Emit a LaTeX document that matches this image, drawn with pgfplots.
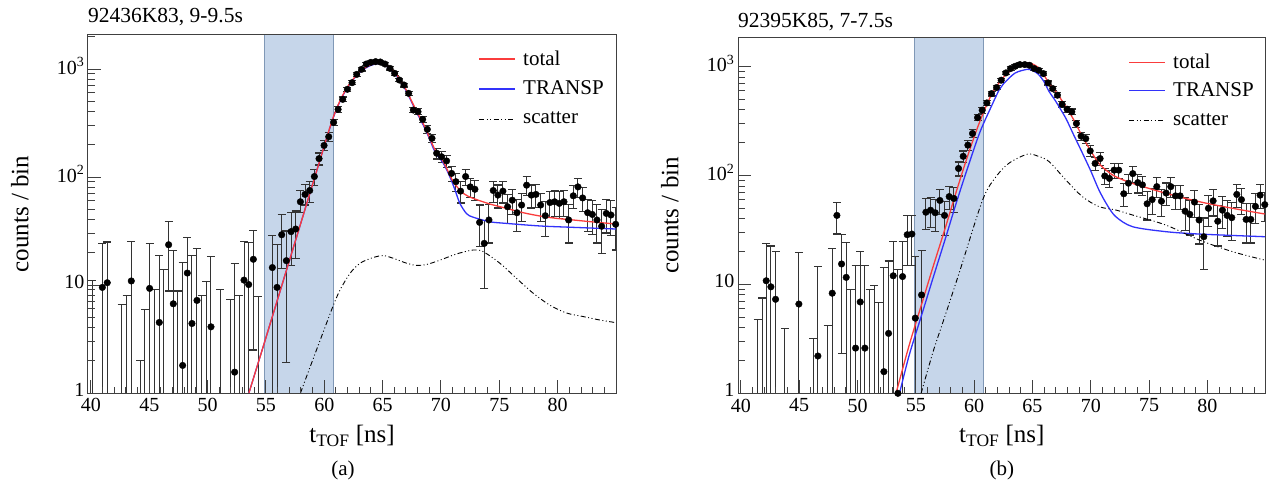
\documentclass[border=0pt]{standalone}
\usepackage{fontspec}
\setmainfont{Liberation Serif}
\usepackage{pgfplots}
\usepackage{pgfplotstable}
\pgfplotsset{compat=1.18}

\definecolor{bandfill}{RGB}{198,214,234}
\definecolor{bandedge}{RGB}{128,152,182}
\definecolor{rootred}{RGB}{250,60,60}
\definecolor{rootblue}{RGB}{50,50,250}

% measured bins: t [ns], counts, err+, err-
\pgfplotstableread{
t v ep em
40.12 0.5 10.5 0.4
40.98 9.5 14.5 9.45
41.40 10.5 14.5 10.45
42.63 0.5 6.1 0.4
43.06 0.5 7.5 0.4
43.46 10.9 14.6 10.85
44.23 0.5 1.5 0.4
44.63 0.5 5.4 0.4
45.03 9.3 14.7 9.25
45.46 0.5 8.6 0.4
45.86 4.5 14.3 4.45
46.26 0.5 13.5 0.4
46.66 23.6 15.3 14.8
47.06 6.7 14.3 6.65
47.46 0.5 8.3 0.4
47.86 1.8 14.4 1.75
48.26 12.9 14.7 12.85
48.66 4.4 14.3 4.35
49.09 7.2 14.5 7.15
49.49 0.5 7.5 0.4
49.89 0.5 10.3 0.4
50.29 4.1 14.4 4.05
51.09 0.5 8.5 0.4
51.92 0.5 6.9 0.4
52.32 1.56 14.2 1.51
52.72 0.5 7.5 0.4
53.12 11.1 14.4 11.05
53.52 10.1 14.7 10.05
53.92 17.3 14.7 14.8
54.35 0.5 7.3 0.4
55.55 14.5 14.5 14.45
55.95 9.5 14.3 9.45
56.35 29.2 15.8 14.9
56.75 16.8 14.8 14.9
57.15 31.2 15.5 15.9
57.55 33 15.4 15.3
57.95 59 16 12
58.35 69 16.3 14
58.75 75 16.6 16.6
59.15 101 17.3 17.3
59.55 148 18.7 18.7
59.98 196 19.9 19.9
60.38 236 20.9 20.9
60.80 321 22.9 22.9
61.18 423 25 25
61.58 524 26.9 26.9
61.98 649 29.1 29.1
62.38 747 30.8 30.8
62.78 892 33 33
63.20 993 34.5 34.5
63.60 1112 36.2 36.2
64.00 1153 36.8 36.8
64.40 1170 37 37
64.80 1161 36.9 36.9
65.20 1112 36.2 36.2
65.63 1014 34.8 34.8
66.03 912 33.3 33.3
66.43 791 31.5 31.5
66.83 711 30.2 30.2
67.23 595 28.2 28.2
67.63 417 24.8 24.8
68.03 403 24.6 24.6
68.43 342 23.3 23.3
68.83 276 21.8 21.8
69.23 228 20.7 20.7
69.63 166 19.2 19.2
70.05 154 18.8 18.8
70.48 141 18.5 18.5
70.91 108 17.5 17.5
71.28 90.5 17 17
71.68 74 16.6 16.6
72.11 101 17.3 17.3
72.51 81 16.8 16.8
72.91 77 16.6 16.6
73.31 38 17 15.4
73.71 24.3 15 15
74.11 40 15.5 15.5
74.48 75 16.6 16.6
74.88 68 16.4 16.4
75.31 74 16.6 16.6
75.71 53 15.9 15.9
76.11 61 16.1 16.1
76.51 46.7 15.7 15.7
76.91 55 16 16
77.34 84 16.9 16.9
77.74 68 16.4 16.4
78.14 69 16.4 16.4
78.54 55 16 16
78.94 43.8 15.6 15.6
79.34 58 16.1 16.1
79.74 59 16.1 16.1
80.14 57 16 16
80.54 59 16.1 16.1
80.94 40 15.5 15.5
81.34 67 16.3 16.3
81.74 81 16.8 16.8
82.14 64 16.2 16.2
82.57 46.7 15.7 15.7
82.97 45 15.7 15.7
83.37 40 15.5 15.5
83.77 35 15.3 15.3
84.17 46 15.7 15.7
84.57 44.5 15.6 15.6
84.97 36.5 15.4 15.4
}\dataA

\pgfplotstableread{
t v ep em
41.43 0.5 4.3 0.4
41.83 0.5 7.0 0.4
42.17 10.8 13.0 10.75
42.57 9.5 13.0 9.45
42.97 7.3 12.7 7.25
43.77 0.5 3.4 0.4
44.97 6.6 12.9 6.55
46.20 0.5 2.7 0.4
46.60 2.2 12.5 2.15
47.43 0.5 3.7 0.4
47.83 8.3 12.9 8.25
48.23 43 14 14
48.63 15.4 13.2 13.1
49.03 11.6 12.8 11.55
49.43 0.5 8.5 0.4
49.83 2.6 12.4 2.55
50.23 6.9 13.1 6.85
50.63 2.6 12.4 2.55
51.03 0.5 8.4 0.4
51.43 0.5 9.2 0.4
51.83 0.5 6.3 0.4
52.26 1.58 12.6 1.53
52.66 3.55 12.85 3.5
53.06 12.0 13.0 11.95
53.46 1.0 12.8 0.95
53.86 11.8 13.0 11.75
54.26 28.6 14.1 13.6
54.66 29 14.1 14
54.95 4.9 13 4.85
55.49 8.0 12.6 7.95
55.86 46 15.5 14
56.26 48 15 15
56.66 45.5 15 15
57.06 59 15.5 15.5
57.46 43 15 15
57.86 64 15.5 15.5
58.26 61.5 15.5 15.5
58.66 116 17 17
59.06 150 18 18
59.46 190 19.5 19.5
59.86 243 20.5 20.5
60.29 340 23 23
60.69 398 24 24
61.09 464 25.5 25.5
61.49 565 27.5 27.5
61.92 642 29 29
62.32 750 31 31
62.72 875 32.5 32.5
63.12 959 34 34
63.52 1007 35 35
63.92 1043 35.5 35.5
64.34 1043 35.5 35.5
64.74 1028 35 35
65.14 959 34 34
65.54 925 33.5 33.5
65.94 862 32.5 32.5
66.34 708 30 30
66.74 628 29 29
67.14 546 27 27
67.54 451 25.5 25.5
67.97 406 24.5 24.5
68.37 384 24 24
68.77 300 22 22
69.17 230 20.5 20.5
69.57 218 20.3 20.3
69.95 168 19 19
70.37 129 18 18
70.80 143 18.5 18.5
71.20 99 17 17
71.60 94 17 17
72.00 112 17.5 17.5
72.40 112 17.5 17.5
72.83 68 16.4 16.4
73.23 85 16.9 16.9
73.60 104 17.4 17.4
74.03 86 16.9 16.9
74.43 82 16.8 16.8
74.83 55 16 16
75.26 60 16.1 16.1
75.66 79 16.7 16.7
76.06 58 16 16
76.46 69 16.4 16.4
76.86 79 16.7 16.7
77.26 65 16.3 16.3
77.66 65 16.3 16.3
78.09 47 15.7 15.7
78.49 44 15.6 15.6
78.89 57 16 16
79.29 39 15.5 15.5
79.69 27.4 13.3 13.6
80.09 50 15.8 15.8
80.49 58.5 16 16
80.89 38 15.5 15.5
81.29 48 15.7 15.7
81.69 43 15.6 15.6
82.09 41 15.5 15.5
82.52 67 16.3 16.3
82.92 60 16.1 16.1
83.32 39.5 15.5 15.5
83.72 39.5 15.5 15.5
84.12 52 15.9 15.9
84.52 66 16.3 16.3
84.92 54 16 16
}\dataB

% common axis settings
\pgfplotsset{
  scale only axis,
  xmin=39.75, xmax=85, ymin=1,
  xtick={40,45,...,85}, xticklabels={40,45,50,55,60,65,70,75,80,{}},
  minor xtick={40,41,...,85},
  ytick={1,10,100,1000},
  yticklabels={1,10,10\textsuperscript{2},10\textsuperscript{3}},
  minor ytick={2,3,...,9,20,30,...,90,200,300,...,900,2000},
  tick pos=left, tick align=inside,
  major tick length=13pt, minor tick length=6.5pt,
  axis line style={black!75, line width=1pt},
  tick style={black!75, line width=1pt},
  tick label style={font=\fontsize{20}{20}\selectfont},
  yticklabel style={yshift=3pt},
  xticklabel style={yshift=-2pt},
  /pgf/number format/assume math mode=true,
  label style={font=\fontsize{25}{25}\selectfont},
  xlabel style={at={(axis description cs:0.5,-0.12)}, anchor=center},
  ylabel style={at={(axis description cs:-0.129,0.5)}, anchor=center},
  errbins/.style={only marks, mark=*, mark size=3.3pt,
    mark options={fill=black, draw=black}, forget plot,
    error bars/y dir=both, error bars/y explicit,
    error bars/error bar style={line width=1pt, black!80},
    error bars/error mark options={rotate=90, mark size=4pt, line width=1.1pt, black!80}},
}
\tikzset{
  legtext/.style={anchor=west, inner sep=0pt, font=\fontsize{21}{21}\selectfont},
  scdash/.style={black, line width=0.9pt,
    dash pattern=on 5pt off 2.5pt on 1pt off 2.5pt on 1pt off 2.5pt},
}

\begin{document}
\begin{tikzpicture}
\useasboundingbox (0,0) rectangle (1271pt,482pt);

\begin{axis}[name=pa, at={(88pt,89pt)}, anchor=south west,
  width=528pt, height=358pt, ymode=log, ymax=2065, axis on top,
  xlabel={t\textsubscript{TOF} [ns]}, ylabel={counts / bin}]
\addplot[fill=bandfill, draw=bandedge, line width=0.8pt, forget plot]
  coordinates {(54.85,1) (54.85,3000) (60.78,3000) (60.78,1)} -- cycle;
\addplot[errbins] table[x=t, y=v, y error plus=ep, y error minus=em] {\dataA};
\addplot[rootblue, line width=1.3pt, smooth, forget plot] table {
t v
53.54 1
54.5 2.17
55.5 4.9
56.5 11.1
57.5 25.1
58.5 56.9
59.5 129
60.5 290
61 412
61.5 543
62 676
62.5 803
63 921
63.5 1014
64 1080
64.5 1118
65 1105
65.5 1030
66 920
66.5 780
67 633
67.5 490
68 380
68.5 300
69 228
69.5 170
70.2 134
70.77 100
71.2 76
71.62 57
72.2 45.7
72.77 42.4
74.2 38.5
75.6 37.2
78.5 35.2
81.3 34.2
85 33
};
\addplot[rootred, line width=1.3pt, smooth, forget plot] table {
t v
53.54 1
54.5 2.17
55.5 4.9
56.5 11.1
57.5 25.1
58.5 56.9
59.5 129
60.5 292
61 417
61.5 550
62 684
62.5 813
63 933
63.5 1028
64 1096
64.5 1135
65 1122
65.5 1047
66 944
66.5 794
67 646
67.5 501
68 389
68.5 309
69 234
69.5 178
70.2 139
71.05 90.6
71.91 70.6
72.77 63.4
74.2 56.2
75.6 51.3
77.05 46.7
78.5 43.5
79.9 41.4
81.34 40
82.77 38.6
85 36.7
};
\addplot[scdash, smooth, forget plot] table {
t v
57.96 1
58.5 1.44
59.5 2.8
60.2 4.45
60.78 6.5
61.35 9.0
62.2 12.8
63.06 15.9
64.2 18
65.06 18.7
65.9 17.7
67.06 15.9
67.9 15.2
68.78 15.5
69.92 17
71.34 19.4
72.77 21.1
73.6 20.4
75.05 15.9
76.48 11.5
77.9 8.4
79.34 6.5
80.77 5.5
82.2 5.1
83.62 4.74
85 4.48
};
\end{axis}

% legend (a)
\draw[rootred, line width=1.3pt] ([xshift=391pt,yshift=-24pt]pa.north west) -- ++(36pt,0pt);
\draw[rootblue, line width=1.3pt] ([xshift=391pt,yshift=-54pt]pa.north west) -- ++(36pt,0pt);
\draw[scdash] ([xshift=391pt,yshift=-84pt]pa.north west) -- ++(36pt,0pt);
\node[legtext] at ([xshift=435pt,yshift=-23pt]pa.north west) {total};
\node[legtext] at ([xshift=435pt,yshift=-53pt]pa.north west) {TRANSP};
\node[legtext] at ([xshift=435pt,yshift=-83pt]pa.north west) {scatter};

\node[anchor=base west, inner sep=0pt, font=\fontsize{21.5}{21.5}\selectfont]
  at ([yshift=12pt]pa.north west) {92436K83, 9-9.5s};
\node[font=\fontsize{21}{21}\selectfont] at ([xshift=-9pt,yshift=-77pt]pa.south) {(a)};

\begin{axis}[name=pb, at={(738pt,88.7pt)}, anchor=south west,
  width=527.7pt, height=356pt, ymode=log, ymax=1858, axis on top,
  xlabel={t\textsubscript{TOF} [ns]}, ylabel={counts / bin}]
\addplot[fill=bandfill, draw=bandedge, line width=0.8pt, forget plot]
  coordinates {(54.85,1) (54.85,3000) (60.78,3000) (60.78,1)} -- cycle;
\addplot[errbins] table[x=t, y=v, y error plus=ep, y error minus=em] {\dataB};
\addplot[rootblue, line width=1.3pt, smooth, forget plot] table {
t v
53.6 1
54.43 2.24
55.5 5.25
56.5 11.7
57.5 25.7
58.5 57.5
59.5 123
60.5 251
61.5 437
62.14 610
62.5 692
63.5 871
64.57 944
65 922
65.5 851
66 724
66.43 589
67 479
67.86 335
68.5 240
69.29 160
70 110
70.7 73.6
71.4 53.7
72.14 41.9
73.57 33.9
76.43 30.5
79.29 29
84.92 27.4
};
\addplot[rootred, line width=1.3pt, smooth, forget plot] table {
t v
53.3 1
54.43 2.77
55.5 6.6
56.5 14.8
57.5 32.4
58.5 73
59.5 158
60.5 316
61.5 556
62.5 794
63.5 977
64.57 1072
65 1055
65.5 980
66 830
66.43 703
67 590
67.86 429
68.5 330
69.29 227
70 168
70.7 129
71.4 110
72.14 97.5
73.57 84.7
76.43 68.7
79.29 57.5
82.14 50
84.92 44.3
};
\addplot[scdash, smooth, forget plot] table {
t v
55.45 1
56.5 2.45
57.29 4.39
58.7 12.6
60.72 59.4
61.86 97
63.0 130
64.57 157
65.5 150
66.43 134
67.86 91
69.29 63.8
70.7 51.8
72.14 48.2
73.57 43.4
76.43 35.1
79.29 25.6
82.14 20
84.92 16.7
};
\end{axis}

% legend (b)
\draw[rootred, line width=1.3pt] ([xshift=391pt,yshift=-25pt]pb.north west) -- ++(36pt,0pt);
\draw[rootblue, line width=1.3pt] ([xshift=391pt,yshift=-53.5pt]pb.north west) -- ++(36pt,0pt);
\draw[scdash] ([xshift=391pt,yshift=-83.5pt]pb.north west) -- ++(36pt,0pt);
\node[legtext] at ([xshift=435pt,yshift=-24pt]pb.north west) {total};
\node[legtext] at ([xshift=435pt,yshift=-52.5pt]pb.north west) {TRANSP};
\node[legtext] at ([xshift=435pt,yshift=-82.5pt]pb.north west) {scatter};

\node[anchor=base west, inner sep=0pt, font=\fontsize{21.5}{21.5}\selectfont]
  at ([yshift=10pt]pb.north west) {92395K85, 7-7.5s};
\node[font=\fontsize{21}{21}\selectfont] at ([yshift=-77pt]pb.south) {(b)};
\end{tikzpicture}
\end{document}
